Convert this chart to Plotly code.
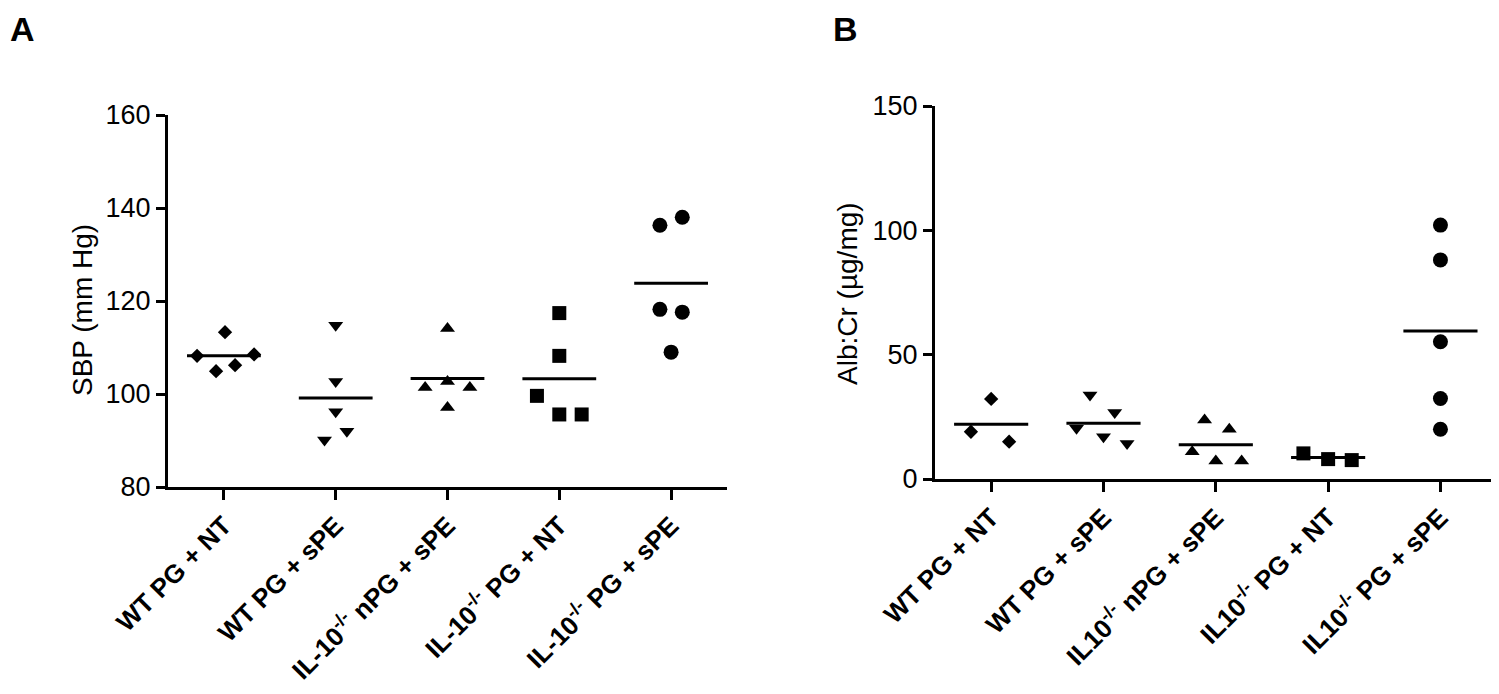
import numpy as np
import plotly.graph_objects as go

# ---------------- data ----------------
cats_a = ["WT PG + NT", "WT PG + sPE", "IL-10<sup>-/-</sup> nPG + sPE",
          "IL-10<sup>-/-</sup> PG + NT", "IL-10<sup>-/-</sup> PG + sPE"]
cats_b = ["WT PG + NT", "WT PG + sPE", "IL10<sup>-/-</sup> nPG + sPE",
          "IL10<sup>-/-</sup> PG + NT", "IL10<sup>-/-</sup> PG + sPE"]

sbp_wt_nt = [108.2, 113.3, 108.5, 104.9, 106.2]
sbp_wt_spe = [114.8, 102.7, 96.2, 92.0, 90.1]
sbp_ko_npg_spe = [114.1, 101.4, 102.7, 101.4, 97.1]
sbp_ko_pg_nt = [117.4, 108.2, 99.6, 95.6, 95.6]
sbp_ko_pg_spe = [136.3, 138.0, 118.2, 117.6, 109.0]

alb_wt_nt = [32.2, 19.0, 15.0]
alb_wt_spe = [33.8, 26.7, 20.4, 17.0, 14.3]
alb_ko_npg_spe = [23.7, 20.0, 11.0, 7.2, 7.2]
alb_ko_pg_nt = [10.3, 8.0, 7.6]
alb_ko_pg_spe = [102.1, 88.1, 55.2, 32.4, 20.0]

# horizontal scatter (jitter) offsets within each category
jit_a = [[-0.24, 0.01, 0.27, -0.07, 0.10],
         [0.0, 0.0, 0.0, 0.10, -0.10],
         [0.0, -0.20, 0.0, 0.20, 0.0],
         [0.0, 0.0, -0.20, 0.0, 0.20],
         [-0.10, 0.10, -0.10, 0.10, 0.0]]
jit_b = [[0.0, -0.18, 0.16],
         [-0.12, 0.10, -0.24, 0.0, 0.21],
         [-0.10, 0.12, -0.21, 0.0, 0.23],
         [-0.22, 0.0, 0.21],
         [0.0, 0.0, 0.0, 0.0, 0.0]]

yticks_a = [80, 100, 120, 140, 160]
yticks_b = [0, 50, 100, 150]

# ---------------- styling ----------------
symbols = ["diamond", "triangle-down", "triangle-up", "square", "circle"]
sizes = [11, 13, 13, 14, 15]
FONT = "Liberation Sans, Arial, sans-serif"
PAGE_W, PAGE_H = 1499, 694
OFF = 8  # default page body margin
W, H = PAGE_W - 2 * OFF, PAGE_H - 2 * OFF


def px(x):  # page x pixel -> paper fraction
    return min(1.0, max(0.0, (x - OFF) / W))


def py(y):  # page y pixel -> paper fraction (from bottom)
    return min(1.0, max(0.0, 1 - (y - OFF) / H))


fig = go.Figure()

groups_a = [sbp_wt_nt, sbp_wt_spe, sbp_ko_npg_spe, sbp_ko_pg_nt, sbp_ko_pg_spe]
groups_b = [alb_wt_nt, alb_wt_spe, alb_ko_npg_spe, alb_ko_pg_nt, alb_ko_pg_spe]


def add_panel(groups, jits, xa, ya):
    for i, (vals, jit) in enumerate(zip(groups, jits)):
        xs = [i + j for j in jit]
        fig.add_trace(go.Scatter(x=xs, y=vals, mode="markers", xaxis=xa, yaxis=ya,
                                 marker=dict(symbol=symbols[i], size=sizes[i], color="black",
                                             line=dict(width=0)),
                                 showlegend=False, hoverinfo="y"))
        m = float(np.mean(vals))
        fig.add_trace(go.Scatter(x=[i - 0.33, i + 0.33], y=[m, m], mode="lines",
                                 xaxis=xa, yaxis=ya, line=dict(color="black", width=3),
                                 showlegend=False, hoverinfo="skip"))


add_panel(groups_a, jit_a, "x", "y")
add_panel(groups_b, jit_b, "x2", "y2")

xcommon = dict(tickmode="array", tickvals=list(range(5)),
               showline=True, linecolor="black", linewidth=3, ticks="outside",
               ticklen=10, tickwidth=3, tickcolor="black", tickangle=-45,
               showgrid=False, zeroline=False, automargin=False,
               tickfont=dict(family=FONT, size=26, color="black"))
ycommon = dict(showline=True, linecolor="black", linewidth=3, ticks="outside",
               ticklen=9, tickwidth=3, tickcolor="black", showgrid=False,
               zeroline=False, automargin=False,
               tickfont=dict(family=FONT, size=27, color="black"))

fig.update_layout(
    width=W, height=H, margin=dict(l=0, r=0, t=0, b=0),
    plot_bgcolor="white", paper_bgcolor="white",
    xaxis=dict(domain=[px(168), px(727)], anchor="y", range=[-0.5, 4.5],
               ticktext=["<b>%s</b>" % c for c in cats_a], **xcommon),
    yaxis=dict(domain=[py(487), py(115)], anchor="x", range=[80, 160],
               tickvals=yticks_a, **ycommon),
    xaxis2=dict(domain=[px(935), px(1491)], anchor="y2", range=[-0.5, 4.45],
                ticktext=["<b>%s</b>" % c for c in cats_b], **xcommon),
    yaxis2=dict(domain=[py(479), py(106)], anchor="x2", range=[0, 150],
                tickvals=yticks_b, **ycommon),
    annotations=[
        dict(text="<b>A</b>", x=px(4), y=py(2), xref="paper", yref="paper",
             xanchor="left", yanchor="top", showarrow=False,
             font=dict(family=FONT, size=34, color="black")),
        dict(text="<b>B</b>", x=px(831), y=py(2), xref="paper", yref="paper",
             xanchor="left", yanchor="top", showarrow=False,
             font=dict(family=FONT, size=34, color="black")),
        dict(text="SBP (mm Hg)", x=px(83), y=py(310), xref="paper", yref="paper",
             xanchor="center", yanchor="middle", textangle=-90, showarrow=False,
             font=dict(family=FONT, size=28, color="black")),
        dict(text="Alb:Cr (µg/mg)", x=px(847), y=py(294), xref="paper", yref="paper",
             xanchor="center", yanchor="middle", textangle=-90, showarrow=False,
             font=dict(family=FONT, size=28, color="black")),
    ],
)

fig.write_html("out.html")
